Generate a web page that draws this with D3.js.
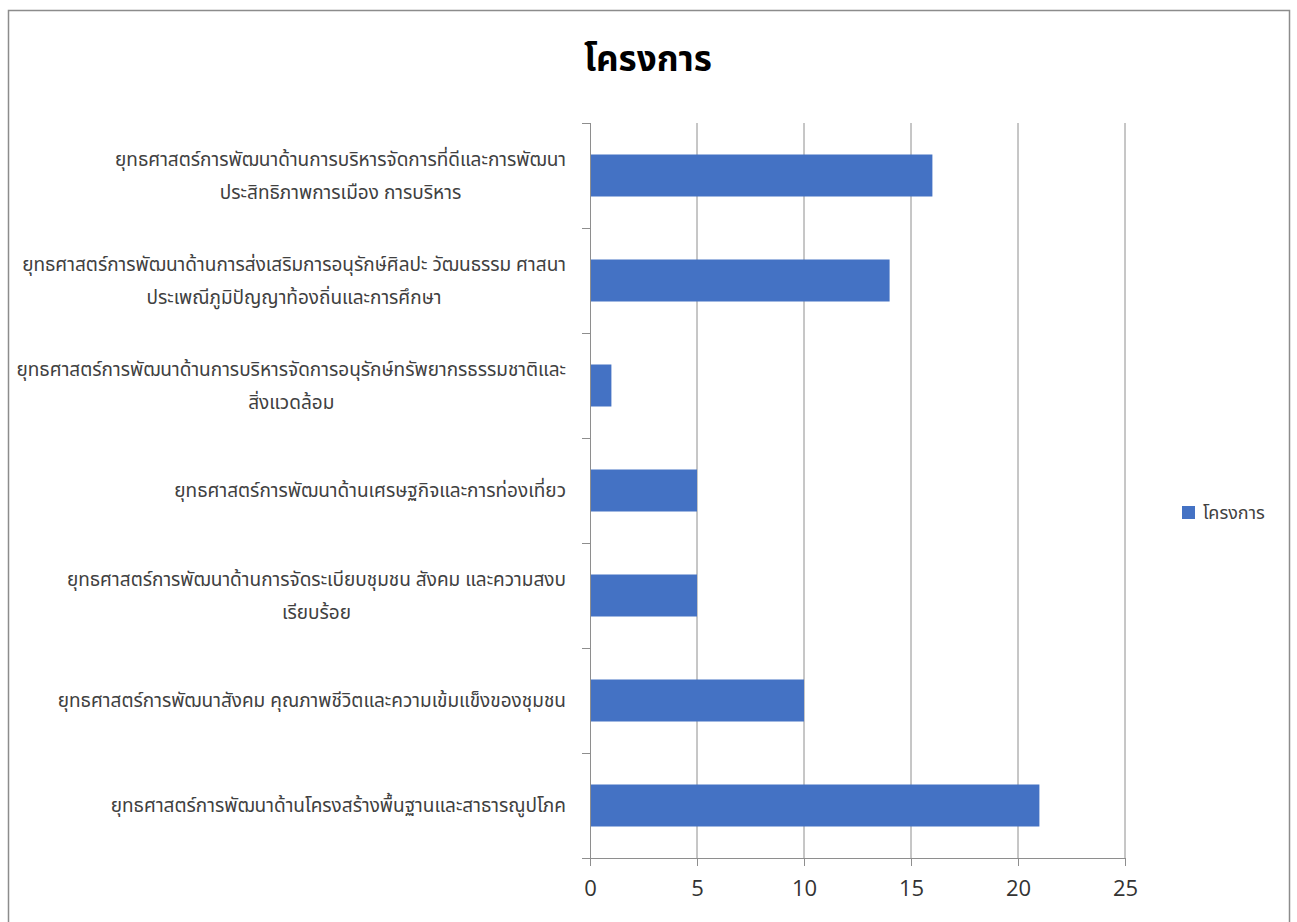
<!DOCTYPE html>
<html>
<head>
<meta charset="utf-8">
<script src="https://cdn.jsdelivr.net/npm/d3@7"></script>
<style>
  html, body { margin: 0; padding: 0; background: #fff; }
  svg { display: block; }
  text { font-family: "Noto Sans Thai", "Leelawadee UI", Tahoma, "DejaVu Sans", "Noto Sans", sans-serif; }
</style>
</head>
<body>
<svg id="chart" width="1297" height="922"></svg>
<script>
const chartTitle = "โครงการ";
const seriesName = "โครงการ";
const categories = [
  ["ยุทธศาสตร์การพัฒนาด้านการบริหารจัดการที่ดีและการพัฒนา", "ประสิทธิภาพการเมือง การบริหาร"],
  ["ยุทธศาสตร์การพัฒนาด้านการส่งเสริมการอนุรักษ์ศิลปะ วัฒนธรรม ศาสนา", "ประเพณีภูมิปัญญาท้องถิ่นและการศึกษา"],
  ["ยุทธศาสตร์การพัฒนาด้านการบริหารจัดการอนุรักษ์ทรัพยากรธรรมชาติและ", "สิ่งแวดล้อม"],
  ["ยุทธศาสตร์การพัฒนาด้านเศรษฐกิจและการท่องเที่ยว"],
  ["ยุทธศาสตร์การพัฒนาด้านการจัดระเบียบชุมชน สังคม และความสงบ", "เรียบร้อย"],
  ["ยุทธศาสตร์การพัฒนาสังคม คุณภาพชีวิตและความเข้มแข็งของชุมชน"],
  ["ยุทธศาสตร์การพัฒนาด้านโครงสร้างพื้นฐานและสาธารณูปโภค"]
];
const values = [16, 14, 1, 5, 5, 10, 21];
const xTicks = [0, 5, 10, 15, 20, 25];

const svg = d3.select("#chart");
const margin = { left: 590, right: 1125, top: 123, bottom: 858 };

// frame
svg.append("rect").attr("x", 8.5).attr("y", 10.5).attr("width", 1281).attr("height", 920)
  .attr("fill", "#fff").attr("stroke", "#8c8c8c").attr("stroke-width", 1.5);

const ids = d3.range(categories.length);
const x = d3.scaleLinear().domain([0, 25]).range([margin.left, margin.right]);
const yb = d3.scaleBand().domain(ids).range([margin.top, margin.bottom]);

// gridlines
svg.append("g").selectAll("line").data(xTicks.slice(1)).join("line")
  .attr("x1", d => x(d)).attr("x2", d => x(d))
  .attr("y1", margin.top).attr("y2", margin.bottom)
  .attr("stroke", "#8e8e8e").attr("stroke-width", 1);

// bars
svg.append("g").selectAll("rect").data(values).join("rect")
  .attr("x", x(0))
  .attr("y", (d, i) => yb(i) + yb.bandwidth() * 0.3)
  .attr("width", d => x(d) - x(0))
  .attr("height", yb.bandwidth() * 0.4)
  .attr("fill", "#4472C4");

// x axis
const xAxis = d3.axisBottom(x).tickValues(xTicks).tickSize(8).tickPadding(14).tickFormat(d3.format("d"));
const gx = svg.append("g").attr("transform", `translate(0,${margin.bottom})`).call(xAxis);
gx.select(".domain").attr("stroke", "#8e8e8e").attr("d", `M${margin.left - 8},0.5H${margin.right}`);
gx.selectAll(".tick line").attr("stroke", "#8e8e8e");
gx.selectAll(".tick text").attr("fill", "#333").style("font-size", "22px")
  .style("font-family", "'Open Sans', 'Noto Sans', sans-serif");

// y axis line and ticks at band boundaries
svg.append("line").attr("x1", margin.left + 0.5).attr("x2", margin.left + 0.5)
  .attr("y1", margin.top).attr("y2", margin.bottom).attr("stroke", "#8e8e8e");
const bounds = ids.map(i => yb(i)).concat([margin.bottom]);
svg.append("g").selectAll("line").data(bounds).join("line")
  .attr("x1", margin.left - 8).attr("x2", margin.left)
  .attr("y1", d => Math.round(d) + 0.5).attr("y2", d => Math.round(d) + 0.5)
  .attr("stroke", "#8e8e8e");

// category labels
const labelRight = 566;
const lineGap = 33;
const lg = svg.append("g");
categories.forEach((lines, i) => {
  const cy = yb(i) + yb.bandwidth() / 2;
  const g = lg.append("g");
  const texts = lines.map((t, k) => g.append("text")
    .attr("y", cy + (k - (lines.length - 1) / 2) * lineGap)
    .attr("dy", "0.35em")
    .attr("text-anchor", "middle")
    .attr("fill", "#404040")
    .style("font-size", "19px")
    .text(t));
  const maxW = d3.max(texts, t => t.node().getComputedTextLength());
  texts.forEach(t => t.attr("x", labelRight - maxW / 2));
});

// title
svg.append("text").attr("x", 648).attr("y", 71).attr("text-anchor", "middle")
  .attr("fill", "#000").style("font-size", "35px").style("font-weight", "bold")
  .text(chartTitle);

// legend
const leg = svg.append("g").attr("transform", "translate(1182,506)");
leg.append("rect").attr("width", 13).attr("height", 13).attr("fill", "#4472C4");
leg.append("text").attr("x", 21).attr("y", 7).attr("dy", "0.35em")
  .attr("fill", "#404040").style("font-size", "18px").text(seriesName);
</script>
</body>
</html>
